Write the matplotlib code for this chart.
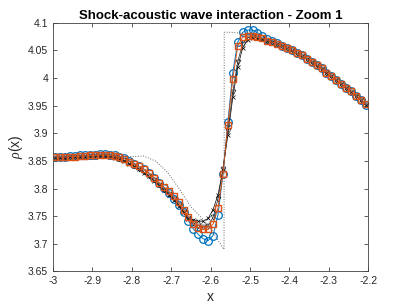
import numpy as np
import matplotlib
matplotlib.use("Agg")
import matplotlib.pyplot as plt

plt.rcParams['font.family'] = ['Liberation Sans', 'DejaVu Sans']
plt.rcParams['mathtext.fontset'] = 'custom'
plt.rcParams['mathtext.it'] = 'Liberation Serif:italic'

# cell-centre grid (dx = 0.0125)
x = np.arange(-2.99375, -2.2, 0.0125)

rho_squares = [3.857, 3.857, 3.857, 3.858, 3.858, 3.859, 3.859, 3.860, 3.860, 3.861,
               3.861, 3.860, 3.859, 3.857, 3.854, 3.849, 3.844, 3.840, 3.835, 3.828,
               3.820, 3.811, 3.803, 3.795, 3.786, 3.775, 3.762, 3.748, 3.736, 3.729,
               3.726, 3.726, 3.736, 3.765, 3.826, 3.916, 3.999, 4.058, 4.074, 4.076,
               4.076, 4.074, 4.072, 4.068, 4.065, 4.062, 4.058, 4.055, 4.050, 4.045,
               4.041, 4.035, 4.030, 4.024, 4.018, 4.010, 4.004, 3.997, 3.990, 3.983,
               3.976, 3.968, 3.961, 3.953]

rho_circles = [3.858, 3.858, 3.858, 3.859, 3.859, 3.860, 3.860, 3.861, 3.861, 3.862,
               3.862, 3.861, 3.860, 3.858, 3.855, 3.850, 3.845, 3.840, 3.835, 3.828,
               3.819, 3.810, 3.801, 3.792, 3.782, 3.771, 3.757, 3.742, 3.727, 3.717,
               3.709, 3.706, 3.715, 3.753, 3.826, 3.920, 4.010, 4.065, 4.083, 4.087,
               4.087, 4.082, 4.077, 4.071, 4.067, 4.063, 4.059, 4.055, 4.050, 4.045,
               4.041, 4.035, 4.030, 4.024, 4.018, 4.010, 4.004, 3.997, 3.990, 3.983,
               3.976, 3.968, 3.961, 3.952]

rho_cross = [3.856, 3.856, 3.856, 3.857, 3.857, 3.857, 3.858, 3.858, 3.858, 3.859,
             3.859, 3.858, 3.856, 3.853, 3.850, 3.845, 3.840, 3.835, 3.829, 3.822,
             3.814, 3.806, 3.797, 3.789, 3.780, 3.769, 3.757, 3.745, 3.744, 3.741,
             3.741, 3.746, 3.762, 3.789, 3.834, 3.897, 3.965, 4.020, 4.055, 4.069,
             4.073, 4.073, 4.071, 4.068, 4.065, 4.061, 4.058, 4.054, 4.050, 4.045,
             4.040, 4.035, 4.029, 4.023, 4.017, 4.010, 4.003, 3.996, 3.989, 3.982,
             3.975, 3.968, 3.960, 3.952]

rho_tri = [3.856, 3.856, 3.857, 3.857, 3.857, 3.858, 3.858, 3.859, 3.859, 3.860,
           3.860, 3.859, 3.857, 3.854, 3.851, 3.846, 3.841, 3.836, 3.830, 3.823,
           3.815, 3.807, 3.798, 3.790, 3.781, 3.770, 3.758, 3.746, 3.738, 3.733,
           3.730, 3.733, 3.748, 3.781, 3.836, 3.905, 3.975, 4.030, 4.062, 4.073,
           4.075, 4.074, 4.071, 4.068, 4.065, 4.061, 4.058, 4.054, 4.050, 4.045,
           4.040, 4.035, 4.029, 4.023, 4.017, 4.010, 4.003, 3.996, 3.989, 3.982,
           3.975, 3.968, 3.960, 3.952]

ref_x = [-3.0, -2.85, -2.80, -2.77, -2.74, -2.71, -2.68, -2.65, -2.62, -2.60,
         -2.58, -2.566, -2.5655, -2.55, -2.53, -2.51, -2.49, -2.45, -2.40, -2.35,
         -2.30, -2.25, -2.20]
ref_rho = [3.857, 3.857, 3.858, 3.859, 3.850, 3.830, 3.800, 3.767, 3.745, 3.728,
           3.705, 3.690, 4.083, 4.083, 4.082, 4.080, 4.076, 4.066, 4.051, 4.034,
           4.012, 3.986, 3.950]

title = "Shock-acoustic wave interaction - Zoom 1"
xticks = [-3, -2.9, -2.8, -2.7, -2.6, -2.5, -2.4, -2.3, -2.2]
xticklabels = ["-3", "-2.9", "-2.8", "-2.7", "-2.6", "-2.5", "-2.4", "-2.3", "-2.2"]
yticks = [3.65, 3.7, 3.75, 3.8, 3.85, 3.9, 3.95, 4.0, 4.05, 4.1]
yticklabels = ["3.65", "3.7", "3.75", "3.8", "3.85", "3.9", "3.95", "4", "4.05", "4.1"]

blue = '#0072BD'
orange = '#D95319'

fig = plt.figure(figsize=(4.07, 3.05), dpi=100)
ax = fig.add_axes([0.13, 0.11, 0.775, 0.815])

ax.plot(x, rho_circles, '-o', color=blue, mfc='none', ms=5.5, mew=0.9, lw=0.7, zorder=2)
ax.plot(x, rho_cross, '-x', color='black', ms=3.5, mew=0.5, lw=0.5, zorder=3)
ax.plot(x, rho_tri, '-v', color='#222222', mfc='none', ms=3.5, mew=0.5, lw=0.5, zorder=3)
ax.plot(x, rho_squares, '-s', color=orange, mfc='none', ms=4.2, mew=1.0, lw=0.7, zorder=4)
ax.plot(ref_x, ref_rho, ':', color='#666666', lw=0.7, zorder=5)

ax.set_xlim(-3, -2.2)
ax.set_ylim(3.65, 4.1)
ax.set_xticks(xticks)
ax.set_xticklabels(xticklabels)
ax.set_yticks(yticks)
ax.set_yticklabels(yticklabels)

axcol = '#262626'
for s in ax.spines.values():
    s.set_color('#404040')
    s.set_linewidth(0.6)
ax.tick_params(direction='in', length=3, width=0.6, colors='#404040', labelcolor=axcol,
               labelsize=7.5, top=True, right=True)

ax.set_title(title, fontsize=9.5, fontweight='bold', pad=3)
ax.set_xlabel('x', fontsize=10, color=axcol, labelpad=3)
ax.set_ylabel(r'$\rho$(x)', fontsize=10, color=axcol, labelpad=2)

fig.savefig('out.png', dpi=100)
